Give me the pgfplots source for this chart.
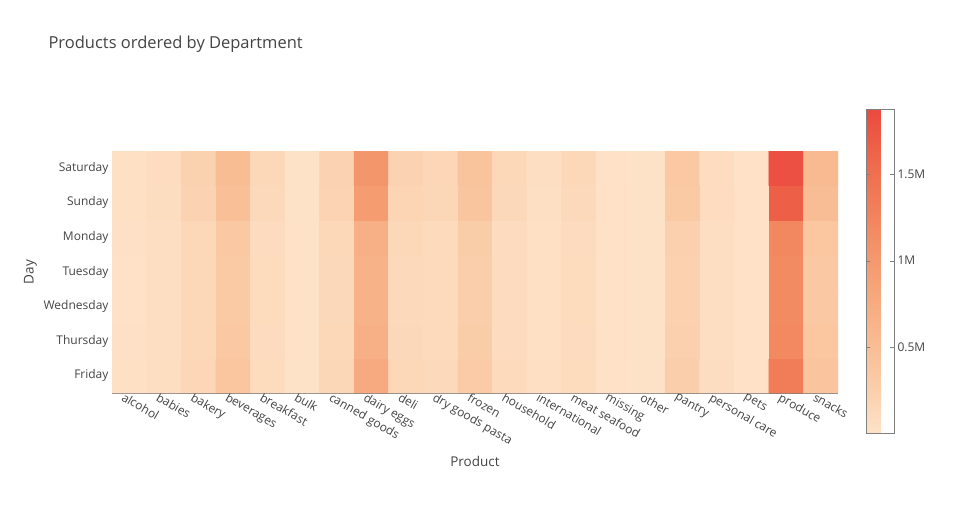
\documentclass[border=0pt]{standalone}
\usepackage{pgfplots}
\pgfplotsset{compat=1.18}
\usepackage{fontspec}
\setmainfont{Open Sans}
\definecolor{txt}{RGB}{68,68,68}
\begin{document}
\begin{tikzpicture}[x=1pt,y=1pt]
\path[use as bounding box] (0,0) rectangle (955,525);
\node[anchor=west,font=\fontsize{16.5}{19}\selectfont,text=txt] at (45,481) {Products ordered by Department};
\begin{axis}[at={(112pt,132pt)},anchor=south west,scale only axis,width=726pt,height=242pt,
 /pgf/number format/assume math mode=true,
 colormap={peach}{rgb255(0)=(254,226,200) rgb255(1)=(250,203,166) rgb255(2)=(248,181,139) rgb255(3)=(245,158,114) rgb255(4)=(242,133,93) rgb255(5)=(239,106,76) rgb255(6)=(235,74,64)},
 point meta min=0, point meta max=1.87,
 xmin=-0.5,xmax=20.5,ymin=-0.5,ymax=6.5,
 xtick={0,...,20},
 xticklabels={alcohol,babies,bakery,beverages,breakfast,bulk,canned goods,dairy eggs,deli,dry goods pasta,frozen,household,international,meat seafood,missing,other,pantry,personal care,pets,produce,snacks},
 ytick={0,...,6},
 yticklabels={Friday,Thursday,Wednesday,Tuesday,Monday,Sunday,Saturday},
 x tick label style={rotate=-30,anchor=north west,font=\fontsize{12}{14}\selectfont,text=txt,inner sep=1pt,xshift=-5pt},
 y tick label style={font=\fontsize{12}{14}\selectfont,text=txt},
 tick style={gray,thin},major tick length=4pt,
 xtick pos=bottom,ytick pos=left,
 axis x line*=bottom,axis y line*=left,
 axis line style={gray,thick,-},
 xlabel={Product},ylabel={Day},
 xlabel style={font=\fontsize{13.5}{15}\selectfont,text=txt,yshift=-4pt},
 ylabel style={font=\fontsize{13.5}{15}\selectfont,text=txt},
 colorbar,
 colorbar style={at={(1.0386,-0.169)},anchor=south west,width=28pt,height=324pt,
   ytick={0.5,1,1.5},yticklabels={0.5M,1M,1.5M},
   yticklabel style={font=\fontsize{12}{14}\selectfont,text=txt},
   axis line style={gray,thick},tick style={gray},major tick length=4pt,
   /pgf/number format/assume math mode=true},
]
\addplot[matrix plot*,mesh/cols=21,mesh/rows=7,point meta=explicit] table[meta=z]{
x y z
0 0 .023
1 0 .060
2 0 .166
3 0 .382
4 0 .101
5 0 .005
6 0 .152
7 0 .768
8 0 .147
9 0 .124
10 0 .317
11 0 .106
12 0 .037
13 0 .101
14 0 .009
15 0 .005
16 0 .267
17 0 .064
18 0 .014
19 0 1.343
20 0 .409
0 1 .021
1 1 .053
2 1 .148
3 1 .340
4 1 .090
5 1 .004
6 1 .135
7 1 .685
8 1 .131
9 1 .111
10 1 .283
11 1 .094
12 1 .033
13 1 .090
14 1 .008
15 1 .004
16 1 .238
17 1 .057
18 1 .012
19 1 1.197
20 1 .365
0 2 .020
1 2 .052
2 2 .144
3 2 .332
4 2 .088
5 2 .004
6 2 .132
7 2 .668
8 2 .128
9 2 .108
10 2 .276
11 2 .092
12 2 .032
13 2 .088
14 2 .008
15 2 .004
16 2 .232
17 2 .056
18 2 .012
19 2 1.168
20 2 .356
0 3 .020
1 3 .052
2 3 .144
3 3 .332
4 3 .088
5 3 .004
6 3 .132
7 3 .668
8 3 .128
9 3 .108
10 3 .276
11 3 .092
12 3 .032
13 3 .088
14 3 .008
15 3 .004
16 3 .232
17 3 .056
18 3 .012
19 3 1.168
20 3 .356
0 4 .021
1 4 .054
2 4 .149
3 4 .344
4 4 .091
5 4 .004
6 4 .137
7 4 .693
8 4 .133
9 4 .112
10 4 .286
11 4 .095
12 4 .033
13 4 .091
14 4 .008
15 4 .004
16 4 .241
17 4 .058
18 4 .012
19 4 1.212
20 4 .369
0 5 .029
1 5 .074
2 5 .205
3 5 .473
4 5 .125
5 5 .006
6 5 .188
7 5 .952
8 5 .182
9 5 .154
10 5 .393
11 5 .131
12 5 .046
13 5 .125
14 5 .011
15 5 .006
16 5 .331
17 5 .080
18 5 .017
19 5 1.664
20 5 .507
0 6 .031
1 6 .081
2 6 .223
3 6 .515
4 6 .136
5 6 .006
6 6 .205
7 6 1.035
8 6 .198
9 6 .167
10 6 .428
11 6 .143
12 6 .050
13 6 .136
14 6 .012
15 6 .006
16 6 .360
17 6 .087
18 6 .019
19 6 1.810
20 6 .552
};
\end{axis}
\end{tikzpicture}
\end{document}
